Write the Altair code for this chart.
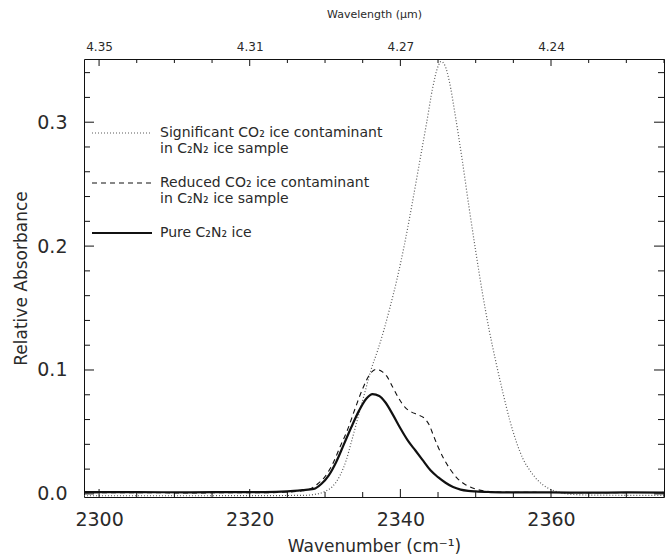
import altair as alt
import pandas as pd

# ---------------- data ----------------
pure_wn = [2298, 2305, 2312, 2318, 2322, 2325, 2327, 2328.5, 2329.5, 2330.5, 2331.5,
           2332.5, 2333.5, 2334.5, 2335.5, 2336.3, 2337.2, 2338, 2339, 2340, 2341,
           2342, 2343, 2344, 2345, 2346, 2347, 2348, 2349, 2350, 2352, 2355, 2360,
           2365, 2370, 2375]
pure_abs = [0.0015, 0.0015, 0.0012, 0.0015, 0.0015, 0.002, 0.003, 0.004, 0.008, 0.015,
            0.026, 0.040, 0.054, 0.067, 0.077, 0.0805, 0.079, 0.074, 0.064, 0.053,
            0.043, 0.035, 0.027, 0.019, 0.0135, 0.009, 0.0055, 0.0035, 0.0025, 0.002,
            0.0015, 0.0012, 0.0012, 0.001, 0.0012, 0.001]

reduced_wn = [2298, 2305, 2312, 2318, 2322, 2325, 2327, 2328, 2329, 2330, 2331, 2332,
              2333, 2334, 2335, 2336, 2336.8, 2337.5, 2338.2, 2339, 2339.8, 2340.6,
              2341.5, 2342.3, 2343.2, 2343.8, 2344.4, 2345, 2345.8, 2346.6, 2347.5,
              2348.5, 2349.5, 2351, 2353, 2358, 2365, 2375]
reduced_abs = [0.001, 0.001, 0.0008, 0.001, 0.001, 0.0015, 0.0025, 0.004, 0.008, 0.014,
               0.024, 0.038, 0.052, 0.069, 0.085, 0.097, 0.1005, 0.099, 0.095, 0.086,
               0.077, 0.070, 0.066, 0.064, 0.061, 0.056, 0.047, 0.038, 0.028, 0.020,
               0.013, 0.008, 0.005, 0.0025, 0.0015, 0.0012, 0.001, 0.0012]

signif_wn = [2298, 2310, 2320, 2327, 2329, 2330, 2331, 2332, 2332.8, 2333.5, 2334.3,
             2335.2, 2336.1, 2337, 2337.8, 2338.6, 2339.5, 2340.5, 2341.5, 2342.5,
             2343.5, 2344.3, 2345, 2345.4, 2345.9, 2346.5, 2347.3, 2348.2, 2349.1,
             2350, 2350.9, 2351.8, 2352.7, 2353.6, 2354.5, 2355.4, 2356.3, 2357.3,
             2358.4, 2359.5, 2361, 2363, 2366, 2375]
signif_abs = [-0.0015, -0.0015, -0.0014, -0.0012, 0.0, 0.002, 0.006, 0.015, 0.027, 0.042,
              0.060, 0.080, 0.100, 0.116, 0.132, 0.150, 0.172, 0.200, 0.232, 0.266,
              0.300, 0.328, 0.345, 0.349, 0.346, 0.333, 0.305, 0.270, 0.232, 0.196,
              0.162, 0.132, 0.106, 0.082, 0.060, 0.042, 0.028, 0.018, 0.010, 0.005,
              0.0015, -0.0005, -0.001, -0.0012]

x_major = [2300, 2320, 2340, 2360]
x_minor = [2305, 2310, 2315, 2325, 2330, 2335, 2345, 2350, 2355, 2365, 2370, 2375]
y_major = [0.0, 0.1, 0.2, 0.3]
y_minor = [0.02, 0.04, 0.06, 0.08, 0.12, 0.14, 0.16, 0.18, 0.22, 0.24, 0.26, 0.28,
           0.32, 0.34]

legend_lines = [
    "Significant CO\u2082 ice contaminant",
    "in C\u2082N\u2082 ice sample",
    "Reduced CO\u2082 ice contaminant",
    "in C\u2082N\u2082 ice sample",
    "Pure C\u2082N\u2082 ice",
]

# ---------------- chart ----------------
W, H = 580, 438
FONT = "DejaVu Sans"
TXT = "#2a2a2a"
xs = alt.Scale(domain=[2298, 2375], nice=False, zero=False)
ys = alt.Scale(domain=[-0.0025, 0.351], nice=False, zero=False)


def curve(wn, ab, width, color, dash=None, xaxis=None, yaxis=None):
    df = pd.DataFrame({"wn": wn, "ab": ab})
    kw = dict(strokeWidth=width, color=color, interpolate="monotone", clip=True)
    if dash:
        kw["strokeDash"] = dash
    return alt.Chart(df).mark_line(**kw).encode(
        x=alt.X("wn:Q", scale=xs, axis=xaxis),
        y=alt.Y("ab:Q", scale=ys, axis=yaxis),
    )


bottom_axis = alt.Axis(orient="bottom", values=x_major, format="d", ticks=False,
                       domain=False, grid=False, labelFontSize=19, labelFont=FONT,
                       labelColor=TXT, labelPadding=13,
                       title="Wavenumber (cm\u207b\u00b9)", titleFont=FONT,
                       titleFontSize=17, titleFontWeight="normal", titleColor=TXT,
                       titlePadding=9)
left_axis = alt.Axis(orient="left", values=y_major, format=".1f", ticks=False,
                     domain=False, grid=False, labelFontSize=19, labelFont=FONT,
                     labelColor=TXT, labelPadding=17, title="Relative Absorbance",
                     titleFont=FONT, titleFontSize=17, titleFontWeight="normal",
                     titleColor=TXT, titlePadding=6)
top_axis = alt.Axis(orient="top", values=x_major, ticks=False, domain=False,
                    grid=False, labelExpr="format(10000/datum.value, '.2f')",
                    labelFontSize=12, labelFont=FONT, labelColor=TXT, labelPadding=6,
                    title="Wavelength (\u03bcm)", titleFont=FONT, titleFontSize=11,
                    titleFontWeight="normal", titleColor=TXT, titlePadding=21)

signif = curve(signif_wn, signif_abs, 1.2, "#5a5a5a", dash=[1, 2])
reduced = curve(reduced_wn, reduced_abs, 1.1, "#111111", dash=[5, 4])
pure = curve(pure_wn, pure_abs, 2.2, "#111111", xaxis=bottom_axis, yaxis=left_axis)

# invisible layer carrying the top axis
top_layer = alt.Chart(pd.DataFrame({"wn": x_major})).mark_point(opacity=0).encode(
    x=alt.X("wn:Q", scale=xs, axis=top_axis)
)


def xticks(vals, y0, y1):
    return alt.Chart(pd.DataFrame({"wn": vals})).mark_rule(color="#111", strokeWidth=1).encode(
        x=alt.X("wn:Q", scale=xs, axis=None), y=alt.value(y0), y2=alt.value(y1))


def yticks(vals, x0, x1):
    return alt.Chart(pd.DataFrame({"v": vals})).mark_rule(color="#111", strokeWidth=1).encode(
        y=alt.Y("v:Q", scale=ys, axis=None), x=alt.value(x0), x2=alt.value(x1))


ticks = [
    xticks(x_major, H, H - 8), xticks(x_minor, H, H - 5),
    xticks(x_major, 0, 7), xticks(x_minor, 0, 4),
    yticks(y_major, 0, 10), yticks(y_minor, 0, 6),
    yticks(y_major, W, W - 10), yticks(y_minor, W, W - 6),
]

one = alt.Data(values=[{}])


def leg_rule(y, width, color, dash=None):
    kw = dict(strokeWidth=width, color=color)
    if dash:
        kw["strokeDash"] = dash
    return alt.Chart(one).mark_rule(**kw).encode(
        x=alt.value(8), x2=alt.value(68), y=alt.value(y))


def leg_text(s, y):
    return alt.Chart(one).mark_text(align="left", baseline="middle", font=FONT,
                                    fontSize=14, color=TXT).encode(
        x=alt.value(76), y=alt.value(y), text=alt.value(s))


legend = [
    leg_rule(74, 1.2, "#5a5a5a", [1, 2]),
    leg_text(legend_lines[0], 74), leg_text(legend_lines[1], 90),
    leg_rule(124, 1.1, "#111111", [5, 4]),
    leg_text(legend_lines[2], 124), leg_text(legend_lines[3], 140),
    leg_rule(174, 2.0, "#111111"),
    leg_text(legend_lines[4], 174),
]

chart = alt.layer(signif, reduced, pure, top_layer, *ticks, *legend).resolve_axis(
    x="independent", y="independent"
).properties(
    width=W, height=H,
    autosize=alt.AutoSizeParams(type="none"),
    padding={"left": 84, "top": 59, "right": 1, "bottom": 59},
    background="white",
).configure_view(stroke="#111111", strokeWidth=1)

chart.save("out.html", embed_options={"renderer": "svg", "actions": False})
